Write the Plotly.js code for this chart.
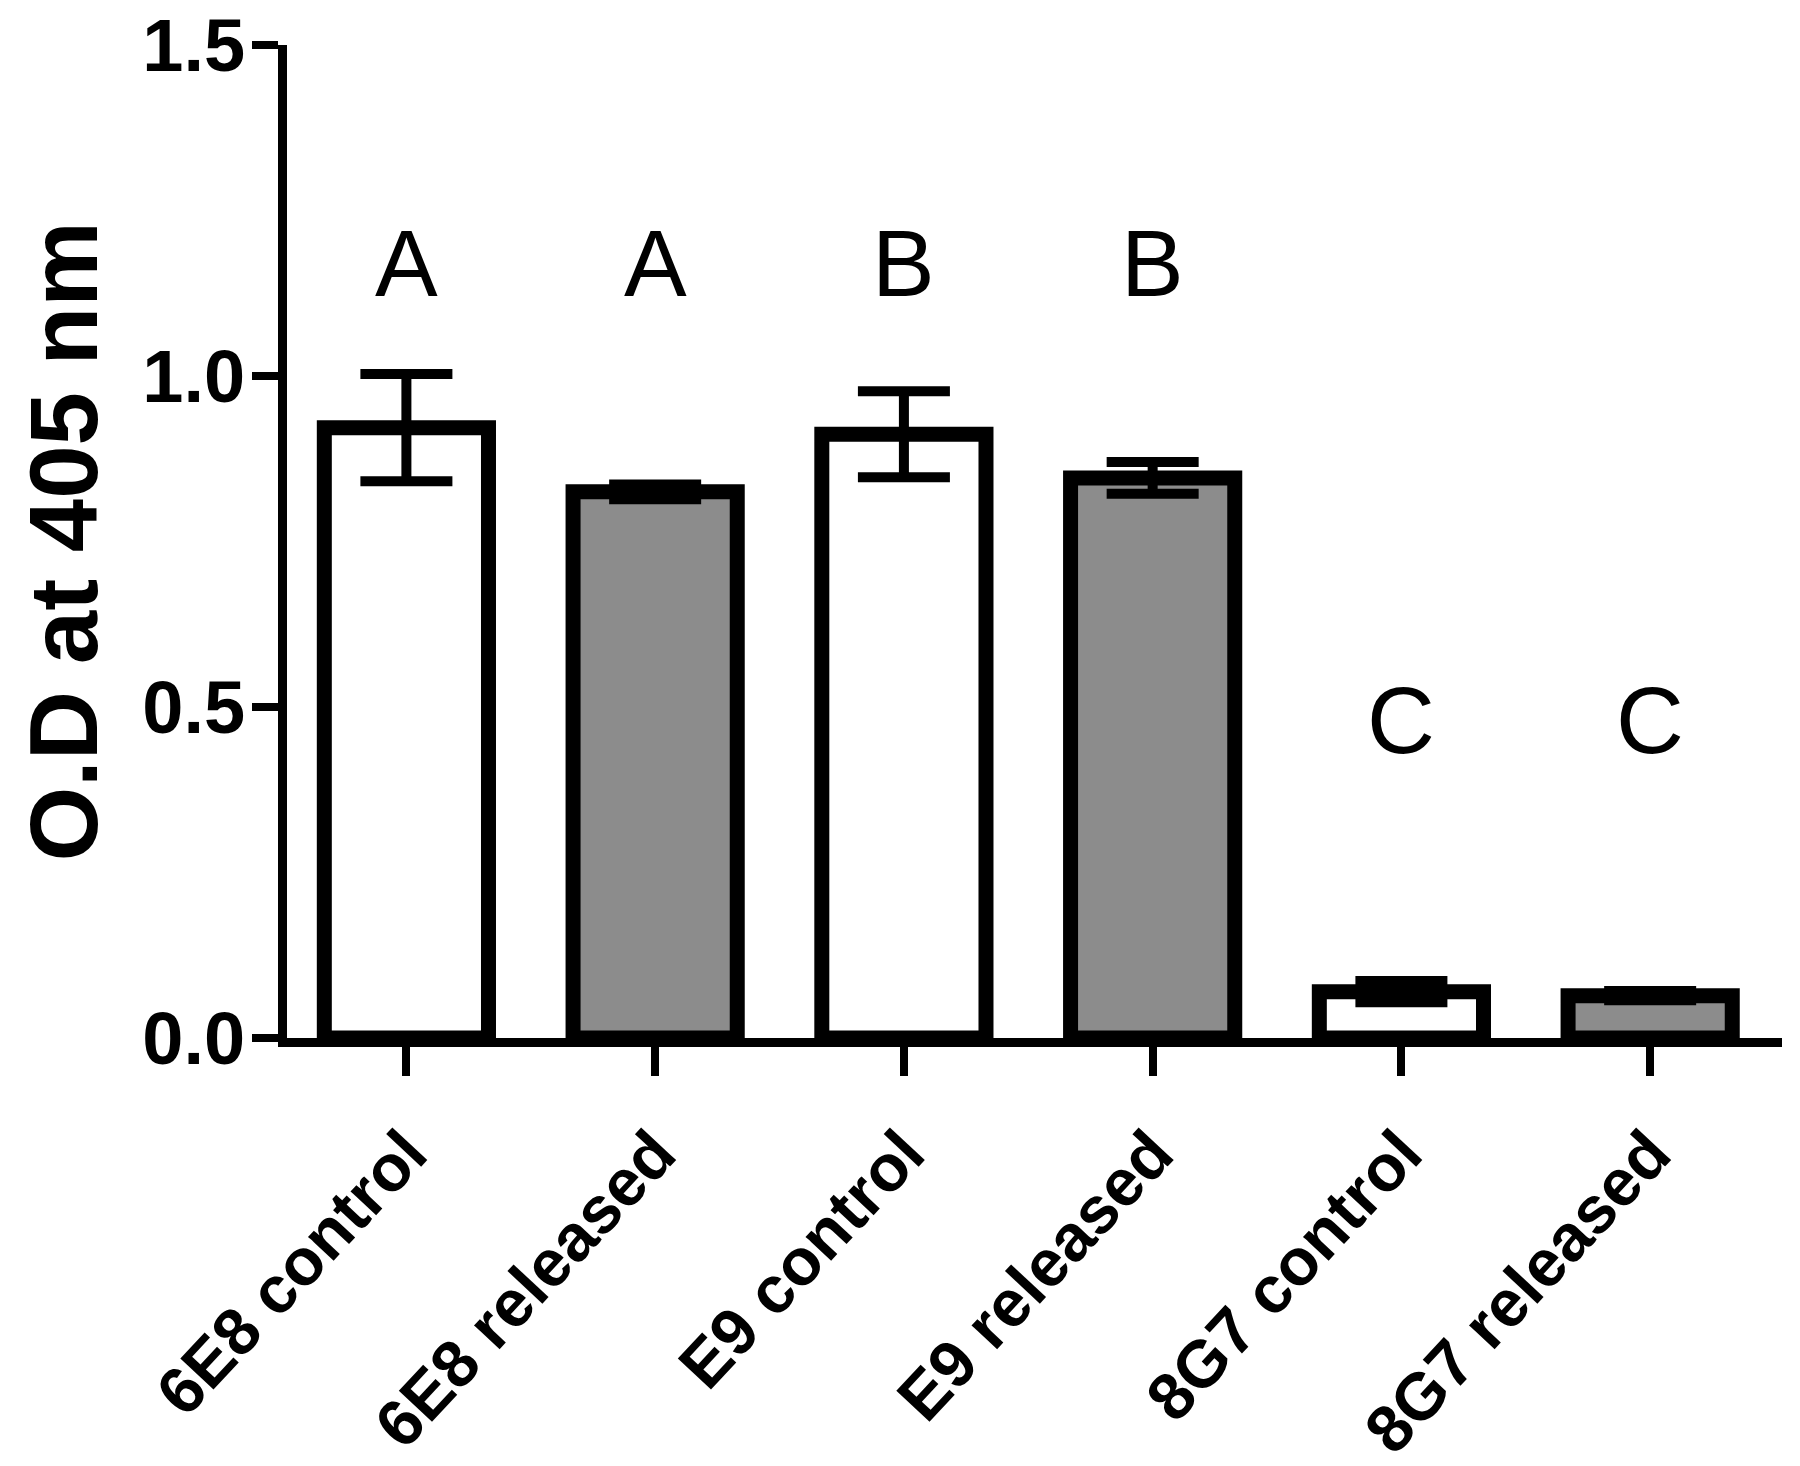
<!DOCTYPE html>
<html><head><meta charset="utf-8">
<script src="https://cdn.plot.ly/plotly-3.0.1.min.js"></script>
<style>html,body{margin:0;padding:0;background:#fff}</style>
</head><body>
<div id="chart" style="width:1800px;height:1466px"></div>
<script>
const categories = ['6E8 control','6E8 released','E9 control','E9 released','8G7 control','8G7 released'];
const meanOD = [0.922, 0.825, 0.912, 0.846, 0.070, 0.064];
const semOD = [0.081, 0.011, 0.065, 0.024, 0.016, 0.007];
const groupType = ['control','released','control','released','control','released'];
const letters = ['A','A','B','B','C','C'];
const letterY = [1.17, 1.17, 1.17, 1.17, 0.48, 0.48];
const yTicks = [0, 0.5, 1.0, 1.5];
const yTickText = ['0.0','0.5','1.0','1.5'];

const fillFor = {control: '#ffffff', released: '#8c8c8c'};
const FONT = 'Liberation Sans, Arial, Helvetica, sans-serif';

const trace = {
  type: 'bar',
  x: categories,
  y: meanOD,
  width: categories.map(() => 0.66),
  marker: {
    color: groupType.map(g => fillFor[g]),
    line: {color: '#000', width: 15}
  },
  error_y: {type: 'data', array: semOD, visible: true, color: '#000', thickness: 10, width: 46},
  hoverinfo: 'x+y',
  cliponaxis: false
};

const annotations = categories.map((c, i) => ({
  x: c, y: letterY[i], xref: 'x', yref: 'y',
  text: letters[i], showarrow: false, xanchor: 'center', yanchor: 'middle',
  font: {family: FONT, size: 94, color: '#000'}
}));

const layout = {
  width: 1800, height: 1466,
  margin: {l: 287, r: 18, t: 45, b: 428},
  paper_bgcolor: '#fff', plot_bgcolor: '#fff',
  showlegend: false,
  xaxis: {
    type: 'category',
    range: [-0.48, 5.53],
    showline: true, linecolor: '#000', linewidth: 9,
    ticks: 'outside', ticklen: 29, tickwidth: 8, tickcolor: '#000',
    tickangle: -47,
    ticklabelstandoff: 12,
    tickfont: {family: FONT, size: 66, color: '#000', weight: 'bold'},
    showgrid: false, zeroline: false, fixedrange: true
  },
  yaxis: {
    range: [0, 1.5],
    tickvals: yTicks, ticktext: yTickText,
    showline: true, linecolor: '#000', linewidth: 9,
    ticks: 'outside', ticklen: 26, tickwidth: 8, tickcolor: '#000',
    ticklabelstandoff: -8,
    tickfont: {family: FONT, size: 74, color: '#000', weight: 'bold'},
    showgrid: false, zeroline: false, fixedrange: true,
    title: {text: 'O.D at 405 nm', standoff: 16,
            font: {family: FONT, size: 96, color: '#000', weight: 'bold'}}
  },
  annotations: annotations
};

Plotly.newPlot('chart', [trace], layout, {displayModeBar: false, staticPlot: true});
</script>
</body></html>
